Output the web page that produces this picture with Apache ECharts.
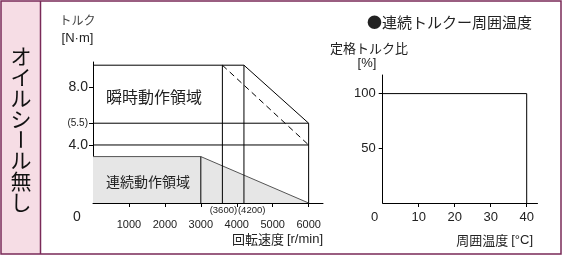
<!DOCTYPE html>
<html><head><meta charset="utf-8">
<script src="https://cdn.jsdelivr.net/npm/echarts@6/dist/echarts.min.js"></script>
<style>html,body{margin:0;padding:0;background:#fff}#c{width:563px;height:258px}</style>
</head><body><div id="c"></div>
<script>
// ---- data ----
const speedTicks = [1000, 2000, 3000, 4000, 5000, 6000];
const speedMarks = [3600, 4200];
const torqueTicks = [4.0, 5.5, 8.0];
const instEnvelope = [[0, 9.5], [4200, 9.5], [6000, 5.5], [6000, 0]];
const instDashed = [[3600, 9.5], [6000, 4.0]];
const line3600 = [[3600, 0], [3600, 9.5]];
const line4200 = [[4200, 0], [4200, 9.5]];
const line55 = [[0, 5.5], [6000, 5.5]];
const line40 = [[0, 4.0], [6000, 4.0]];
const contEnvelope = [[0, 3.2], [3000, 3.2], [6000, 0]];
const line3000 = [[3000, 0], [3000, 3.2]];
const tempTicks = [10, 20, 30, 40];
const ratioTicks = [50, 100];
const ratioCurve = [[0, 100], [40, 100], [40, 0]];

const FONT = '"Liberation Sans", Arial, sans-serif';
const CJK = '"Noto Sans CJK JP", sans-serif';
const TXT = '#222';

const chart = echarts.init(document.getElementById('c'), null, {renderer: 'canvas'});

const blk = {color: '#000', width: 1};
function ln(data, xi, yi, style, extra) {
  return Object.assign({type: 'line', xAxisIndex: xi, yAxisIndex: yi, data: data, symbol: 'none',
    lineStyle: style, silent: true, animation: false}, extra || {});
}

chart.setOption({
  animation: false,
  grid: [
    {left: 93, top: 62, width: 230, height: 141},
    {left: 382.7, top: 75, width: 154.8, height: 128}
  ],
  xAxis: [
    {gridIndex: 0, type: 'value', min: 0, max: 6400,
     axisLine: {lineStyle: {color: '#000', width: 1}},
     axisTick: {customValues: speedTicks, length: 4, lineStyle: {color: '#000'}},
     axisLabel: {customValues: speedTicks, fontFamily: FONT, fontSize: 11, color: TXT, margin: 16,
       formatter: v => String(v)},
     splitLine: {show: false}},
    {gridIndex: 1, type: 'value', min: 0, max: 43,
     axisLine: {lineStyle: {color: '#000', width: 1}},
     axisTick: {customValues: tempTicks, length: 4, lineStyle: {color: '#000'}},
     axisLabel: {customValues: tempTicks, fontFamily: FONT, fontSize: 13, color: TXT, margin: 8,
       formatter: v => String(v)},
     splitLine: {show: false}}
  ],
  yAxis: [
    {gridIndex: 0, type: 'value', min: 0, max: 9.72,
     axisLine: {show: true, lineStyle: {color: '#000', width: 1}},
     axisTick: {show: true, customValues: torqueTicks, length: 4, lineStyle: {color: '#000'}},
     axisLabel: {customValues: torqueTicks, fontFamily: FONT, fontSize: 14, color: TXT, margin: 5,
       formatter: v => Math.abs(v - 5.5) < 1e-9 ? '{s|(5.5)}' : v.toFixed(1),
       rich: {s: {fontFamily: FONT, fontSize: 10, color: TXT}}},
     splitLine: {show: false}},
    {gridIndex: 1, type: 'value', min: 0, max: 117,
     axisLine: {show: true, lineStyle: {color: '#000', width: 1}},
     axisTick: {show: true, customValues: ratioTicks, length: 4, lineStyle: {color: '#000'}},
     axisLabel: {customValues: ratioTicks, fontFamily: FONT, fontSize: 13, color: TXT, margin: 7},
     splitLine: {show: false}}
  ],
  series: [
    ln(contEnvelope, 0, 0, {color: '#555', width: 1}, {areaStyle: {color: '#e6e6e6', opacity: 1}, z: 1}),
    ln(line3000, 0, 0, blk),
    ln(instEnvelope, 0, 0, blk),
    ln(line3600, 0, 0, blk),
    ln(line4200, 0, 0, blk),
    ln(line55, 0, 0, blk),
    ln(line40, 0, 0, blk),
    ln(instDashed, 0, 0, {color: '#000', width: 1, type: [6, 4]}),
    ln(ratioCurve, 1, 1, blk)
  ]
});

const px = (x, y) => chart.convertToPixel({xAxisIndex: 0, yAxisIndex: 0}, [x, y]);
const o1 = px(0, 0);
const o2 = chart.convertToPixel({xAxisIndex: 1, yAxisIndex: 1}, [0, 0]);
const pInst = px(1700, 7.3);
const pCont = px(1530, 1.5);
const pM1 = px(speedMarks[0], 0);
const pM2 = px(speedMarks[1], 0);

function t(text, x, y, size, align, family, fill) {
  return {type: 'text', x: x, y: y, silent: true, z: 100,
    style: {text: text, fontSize: size, fontFamily: family || CJK, fill: fill || TXT,
      align: align || 'center', verticalAlign: 'middle'}};
}

const VLH = 20.8, VTOP = 46;
chart.setOption({
  graphic: [
    {type: 'rect', shape: {x: 1, y: 1, width: 39.5, height: 253}, style: {fill: '#f6dde5'}, z: -10, silent: true},
    {type: 'rect', shape: {x: 1, y: 1, width: 560, height: 253}, style: {fill: null, stroke: '#7a2a58', lineWidth: 1.5}, z: 50, silent: true},
    {type: 'line', shape: {x1: 40.5, y1: 1, x2: 40.5, y2: 254}, style: {stroke: '#7a2a58', lineWidth: 1.5}, z: 50, silent: true},
    // vertical label
    {type: 'text', x: 21, y: VTOP, silent: true, z: 100,
     style: {text: 'オ\nイ\nル\nシ', fontSize: 21, lineHeight: VLH, fontFamily: CJK, fill: '#111', align: 'center', verticalAlign: 'top'}},
    {type: 'text', x: 21, y: VTOP + VLH * 4.5, rotation: -Math.PI / 2, silent: true, z: 100,
     style: {text: 'ー', fontSize: 21, fontFamily: CJK, fill: '#111', align: 'center', verticalAlign: 'middle'}},
    {type: 'text', x: 21, y: VTOP + VLH * 5, silent: true, z: 100,
     style: {text: 'ル\n無\nし', fontSize: 21, lineHeight: VLH, fontFamily: CJK, fill: '#111', align: 'center', verticalAlign: 'top'}},
    // left chart texts
    t('トルク', 77.5, 20, 12, 'center', CJK, '#444'),
    t('[N·m]', 77.5, 38, 13, 'center', FONT),
    t('0', o1[0] - 16, o1[1] + 14, 14, 'center', FONT),
    t('(' + speedMarks[0] + ')', pM1[0] + 1, pM1[1] + 7, 9.5, 'center', FONT),
    t('(' + speedMarks[1] + ')', pM2[0] - 6, pM2[1] + 7, 9.5, 'left', FONT),
    t('瞬時動作領域', pInst[0], pInst[1], 16, 'center'),
    t('連続動作領域', pCont[0], pCont[1], 14, 'center'),
    {type: 'text', x: 323, y: 239, silent: true, z: 100,
     style: {text: '回転速度 {e|[r/min]}', fontSize: 13, fontFamily: CJK, fill: TXT, align: 'right', verticalAlign: 'middle',
       rich: {e: {fontSize: 13, fontFamily: FONT, fill: TXT}}}},
    // right chart texts
    t('●連続トルクー周囲温度', 367, 22, 15, 'left'),
    t('定格トルク比', 330, 48, 13, 'left'),
    t('[%]', 367, 63, 13, 'center', FONT),
    t('0', o2[0] - 8, o2[1] + 14, 13, 'center', FONT),
    {type: 'text', x: 533, y: 240, silent: true, z: 100,
     style: {text: '周囲温度 {e|[°C]}', fontSize: 13, fontFamily: CJK, fill: TXT, align: 'right', verticalAlign: 'middle',
       rich: {e: {fontSize: 13, fontFamily: FONT, fill: TXT}}}}
  ]
});
</script>
</body></html>
